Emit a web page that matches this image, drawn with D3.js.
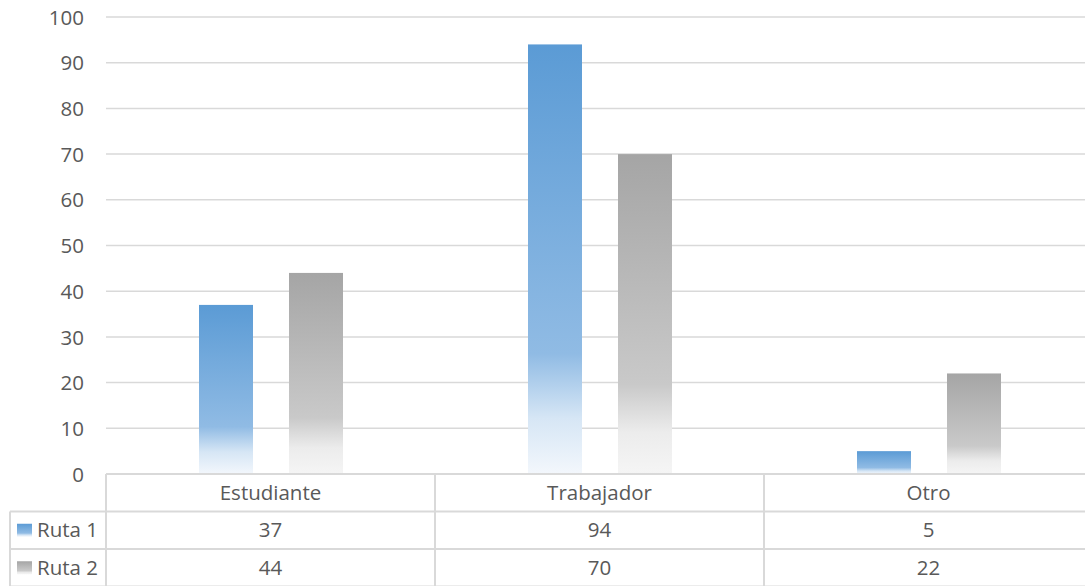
<!DOCTYPE html>
<html>
<head>
  <style>
    body { margin: 0; background: #fff; }
    svg text { font-family: "Open Sans", "Liberation Sans", sans-serif; fill: #595959; }
  </style>
</head>
<body>
  <div id="chart"></div>

  <script src="https://d3js.org/d3.v7.min.js"></script>
  <script>
    // chart data
    const categories = ["Estudiante", "Trabajador", "Otro"];
    const seriesNames = ["Ruta 1", "Ruta 2"];
    const ruta1 = [37, 94, 5];
    const ruta2 = [44, 70, 22];
    const yTicks = [0, 10, 20, 30, 40, 50, 60, 70, 80, 90, 100];

    const values = [ruta1, ruta2];
    const data = [];
    categories.forEach((c, i) => {
      seriesNames.forEach((s, j) => data.push({ cat: c, series: s, value: values[j][i] }));
    });

    const width = 1085, height = 586;
    const fontSize = "20.5px";
    const svg = d3.select("#chart")
      .append("svg")
      .attr("width", width)
      .attr("height", height);

    // gradients like the office fill
    const defs = svg.append("defs");
    const grads = [
      { id: "g1", stops: [[0, "#5b9bd5"], [0.72, "#90bbe4"], [0.87, "#d6e6f5"], [1, "#f3f7fc"]] },
      { id: "g2", stops: [[0, "#a5a5a5"], [0.72, "#c9c9c9"], [0.87, "#ececec"], [1, "#f5f5f5"]] }
    ];
    grads.forEach(g => {
      const lg = defs.append("linearGradient")
        .attr("id", g.id)
        .attr("x1", 0).attr("y1", 0).attr("x2", 0).attr("y2", 1);
      g.stops.forEach(s => lg.append("stop").attr("offset", s[0]).attr("stop-color", s[1]));
    });
    const fillFor = s => s === "Ruta 1" ? "url(#g1)" : "url(#g2)";

    const plotLeft = 106, plotTop = 17, plotBottom = 474;

    const x = d3.scaleBand()
      .domain(categories)
      .range([plotLeft, plotLeft + 329 * 3]);

    const xInner = d3.scaleBand()
      .domain(seriesNames)
      .range([93, 237])
      .paddingInner(0.4);

    const y = d3.scaleLinear()
      .domain([0, 100])
      .range([plotBottom, plotTop]);

    // gridlines
    svg.append("g")
      .selectAll("line")
      .data(yTicks.filter(t => t > 0))
      .enter()
      .append("line")
      .attr("x1", plotLeft)
      .attr("x2", width)
      .attr("y1", d => y(d))
      .attr("y2", d => y(d))
      .attr("stroke", "#d9d9d9")
      .attr("stroke-width", 1.5);

    // y axis labels
    const yAxis = svg.append("g")
      .attr("transform", `translate(${plotLeft - 22},0)`)
      .call(d3.axisLeft(y).tickValues(yTicks).tickSize(0).tickPadding(0));
    yAxis.select(".domain").remove();
    yAxis.selectAll("text")
      .style("font-size", fontSize)
      .attr("fill", "#595959")
      .attr("dy", "0.35em");

    // bars
    svg.append("g")
      .selectAll("rect")
      .data(data)
      .enter()
      .append("rect")
      .attr("x", d => x(d.cat) + xInner(d.series))
      .attr("y", d => y(d.value))
      .attr("width", xInner.bandwidth())
      .attr("height", d => y(0) - y(d.value))
      .attr("fill", d => fillFor(d.series));

    // data table
    const rowH = 37.5;
    const tableLeft = 10;
    const table = svg.append("g");
    const lineColor = "#d9d9d9";

    // horizontal lines
    table.append("line")
      .attr("x1", plotLeft).attr("x2", width)
      .attr("y1", plotBottom).attr("y2", plotBottom)
      .attr("stroke", lineColor).attr("stroke-width", 2);
    [1, 2, 3].forEach(r => {
      table.append("line")
        .attr("x1", tableLeft).attr("x2", width)
        .attr("y1", plotBottom + r * rowH).attr("y2", plotBottom + r * rowH)
        .attr("stroke", lineColor).attr("stroke-width", 2);
    });
    // vertical lines
    table.append("line")
      .attr("x1", tableLeft).attr("x2", tableLeft)
      .attr("y1", plotBottom + rowH).attr("y2", height)
      .attr("stroke", lineColor).attr("stroke-width", 2);
    categories.forEach(c => {
      table.append("line")
        .attr("x1", x(c)).attr("x2", x(c))
        .attr("y1", plotBottom).attr("y2", height)
        .attr("stroke", lineColor).attr("stroke-width", 2);
    });

    // header
    table.selectAll(".cat")
      .data(categories)
      .enter()
      .append("text")
      .attr("class", "cat")
      .attr("x", d => x(d) + x.bandwidth() / 2)
      .attr("y", plotBottom + rowH / 2)
      .attr("dy", "0.35em")
      .attr("text-anchor", "middle")
      .style("font-size", fontSize)
      .text(d => d);

    // rows
    seriesNames.forEach((s, j) => {
      const cy = plotBottom + rowH * (j + 1) + rowH / 2;
      table.append("rect")
        .attr("x", 17).attr("y", cy - 6.5)
        .attr("width", 15).attr("height", 13)
        .attr("fill", fillFor(s));
      table.append("text")
        .attr("x", 37).attr("y", cy)
        .attr("dy", "0.35em")
        .style("font-size", fontSize)
        .text(s);
      table.selectAll(".v" + j)
        .data(categories)
        .enter()
        .append("text")
        .attr("class", "v" + j)
        .attr("x", d => x(d) + x.bandwidth() / 2)
        .attr("y", cy)
        .attr("dy", "0.35em")
        .attr("text-anchor", "middle")
        .style("font-size", fontSize)
        .text((d, i) => values[j][i]);
    });
  </script>
</body>
</html>
